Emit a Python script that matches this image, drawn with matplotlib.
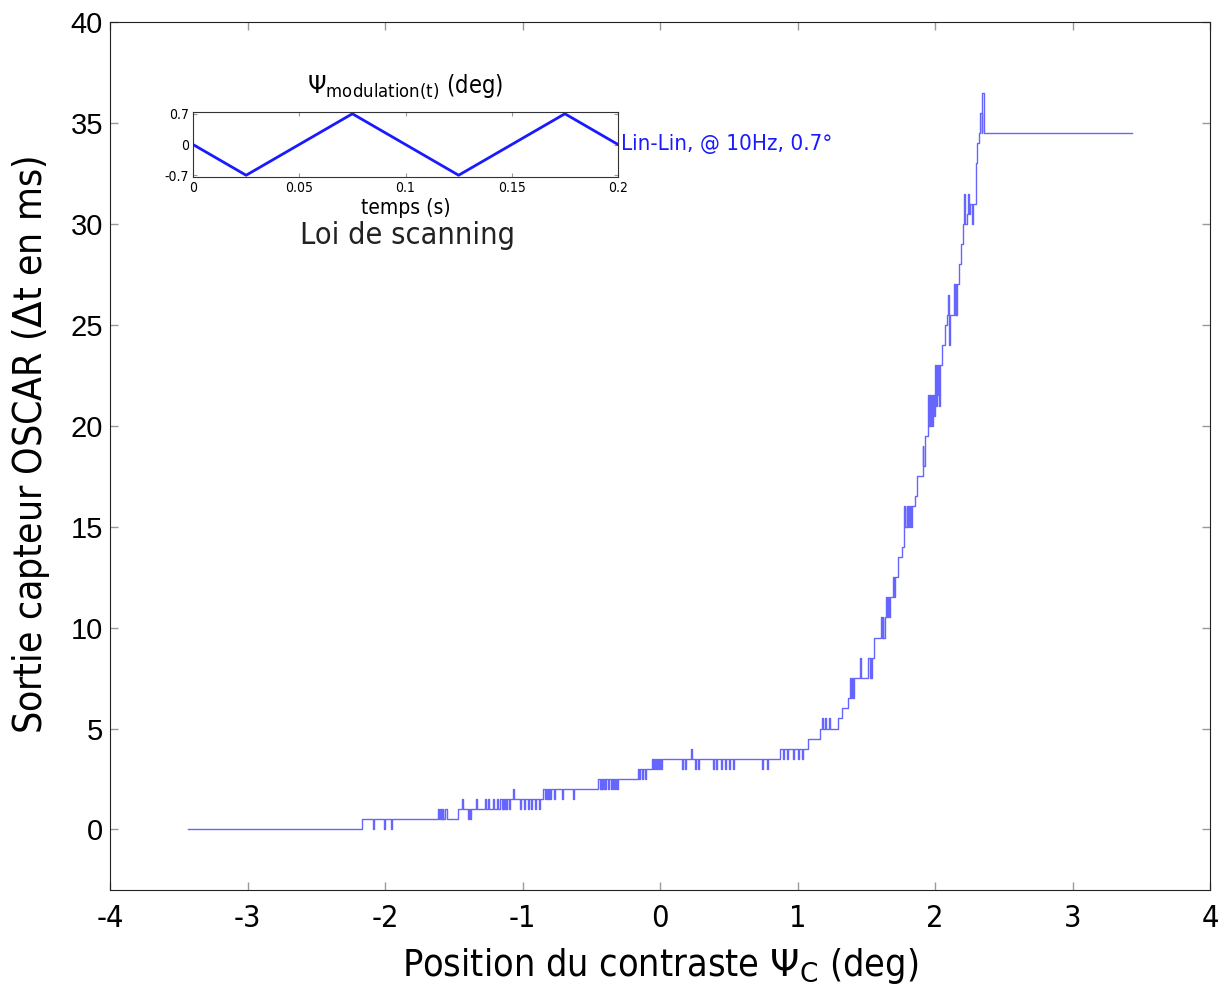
import numpy as np
import matplotlib
matplotlib.use("Agg")
import matplotlib.pyplot as plt
from matplotlib import font_manager

# main curve: staircase levels (deg -> ms)
step_x = [-3.43, -2.167, -1.615, -1.55, -1.47, -1.164, -0.85, -0.45, -0.16, -0.058,
          0.873, 1.076, 1.164, 1.295, 1.324, 1.367, 1.382, 1.513, 1.556, 1.607,
          1.644, 1.695, 1.731, 1.76, 1.775, 1.855, 1.869, 1.913, 1.927, 1.949,
          2.0, 2.051, 2.073, 2.087, 2.138, 2.175, 2.189, 2.204, 2.233, 2.255,
          2.298, 2.305, 2.32, 3.43]
step_y = [0, 0.5, 1.0, 0.5, 1.0, 1.5, 2.0, 2.5, 3.0, 3.5,
          4.0, 4.5, 5.0, 5.5, 6.0, 6.5, 7.5, 8.5, 9.5, 10.5,
          11.5, 12.5, 13.5, 14.0, 16.0, 16.5, 17.5, 19.0, 19.5, 21.5,
          23.0, 24.0, 25.0, 25.5, 27.0, 28.0, 29.0, 30.0, 30.5, 31.0,
          33.0, 34.0, 34.5, 34.5]

# short flicker pulses on top of the staircase
flick_x = [-2.09, -2.01, -1.96,
           -1.605, -1.595, -1.585, -1.575,
           -1.44, -1.34, -1.40, -1.385,
           -1.273, -1.251, -1.215, -1.185,
           -1.15, -1.14, -1.13, -1.12, -1.10, -1.07, -1.02, -0.99, -0.96, -0.94, -0.91, -0.88,
           -0.835, -0.825, -0.815, -0.80, -0.77, -0.71, -0.63,
           -0.44, -0.43, -0.42, -0.41, -0.40, -0.38, -0.36, -0.34, -0.33, -0.31,
           -0.15, -0.13, -0.11,
           -0.05, -0.035, -0.02, -0.005, 0.01, 0.16, 0.18, 0.225, 0.255, 0.276,
           0.385, 0.41, 0.44, 0.47, 0.50, 0.53, 0.742, 0.778,
           0.895, 0.92, 0.967, 1.0, 1.03,
           1.18, 1.20, 1.23,
           1.39, 1.40, 1.455,
           1.525, 1.535,
           1.615, 1.625, 1.65, 1.665, 1.70,
           1.785, 1.795, 1.81, 1.825,
           1.915, 1.92,
           1.955, 1.965, 1.975, 1.99,
           2.005, 2.015, 2.03,
           2.095, 2.10, 2.145, 2.155,
           2.21, 2.24, 2.27,
           2.325, 2.333, 2.343, 2.35]
flick_y = [0, 0, 0,
           0.5, 0.5, 0.5, 0.5,
           1.5, 1.5, 0.5, 0.5,
           1.5, 1.5, 1.5, 1.5,
           1.0, 1.0, 1.0, 1.0, 1.0, 2.0, 1.0, 1.0, 1.0, 1.0, 1.0, 1.0,
           1.5, 1.5, 1.5, 1.5, 1.5, 1.5, 1.5,
           2.0, 2.0, 2.0, 2.0, 2.0, 2.0, 2.0, 2.0, 2.0, 2.0,
           2.5, 2.5, 2.5,
           3.0, 3.0, 3.0, 3.0, 3.0, 3.0, 3.0, 4.0, 3.0, 3.0,
           3.0, 3.0, 3.0, 3.0, 3.0, 3.0, 3.0, 3.0,
           3.5, 3.5, 3.5, 3.5, 3.5,
           5.5, 5.5, 5.5,
           6.5, 6.5, 8.5,
           7.5, 7.5,
           9.5, 9.5, 10.5, 10.5, 11.5,
           15.0, 15.0, 15.0, 15.0,
           18.0, 18.0,
           20.0, 20.0, 20.0, 20.5,
           21.0, 21.5, 21.0,
           26.5, 24.0, 25.5, 25.5,
           31.5, 31.5, 30.0,
           35.5, 35.5, 36.5, 36.5]
flick_w = 0.008

# inset: scanning law
scan_t = [0, 0.025, 0.075, 0.125, 0.175, 0.2]
scan_psi = [0, -0.7, 0.7, -0.7, 0.7, 0]

# use a condensed face if one is installed, else Liberation Sans
cond = [f.name for f in font_manager.fontManager.ttflist
        if f.stretch in ('condensed', 'semi-condensed', 'extra-condensed', 500, 300, 400)
        and f.style == 'normal' and 'Mono' not in f.name]
nfam = cond[0] if cond else 'Liberation Sans'
narrow = dict(family=[nfam, 'DejaVu Sans'], stretch='condensed')
plt.rcParams['mathtext.fontset'] = 'custom'
plt.rcParams['mathtext.rm'] = nfam
plt.rcParams['axes.unicode_minus'] = False

fig = plt.figure(figsize=(12.32, 9.89), dpi=100)
ax = fig.add_axes([110/1232, 1 - 890/989, 1100/1232, 868/989])

sx = np.array(step_x)
fx = np.array(flick_x)
pts = np.unique(np.concatenate([sx, fx, fx + flick_w]))
vals = []
for x in pts:
    inside = np.where((fx <= x) & (x < fx + flick_w))[0]
    if len(inside):
        vals.append(flick_y[inside[0]])
    else:
        vals.append(step_y[np.searchsorted(sx, x, side='right') - 1])
ax.plot(pts, vals, drawstyle='steps-post', color='#0000ff', alpha=0.6, lw=1.0)

ax.set_xlim(-4, 4)
ax.set_ylim(-3, 40)
ax.set_xticks(range(-4, 5))
ax.set_yticks(range(0, 41, 5))
ax.tick_params(direction='in', length=6, color='#999999', top=True, right=True, width=1)
ax.tick_params(axis='x', pad=10)
ax.tick_params(axis='y', pad=5)
for lab in ax.get_xticklabels():
    lab.set_fontproperties(font_manager.FontProperties(size=22, **narrow))
for lab in ax.get_yticklabels():
    lab.set_fontfamily('Liberation Sans')
    lab.set_fontsize(21)
for sp in ax.spines.values():
    sp.set_color('#222222')

ax.set_xlabel(r'Position du contraste $\Psi_{\mathrm{C}}$ (deg)', fontsize=27, **narrow)
ax.xaxis.set_label_coords(0.5, -0.065)
ax.set_ylabel(r'Sortie capteur OSCAR ($\Delta$t en ms)', fontsize=28, **narrow)
ax.yaxis.set_label_coords(-0.053, 0.513)

# inset
ins = fig.add_axes([193/1232, 1 - 177/989, 425/1232, 65/989])
ins.plot(scan_t, scan_psi, color='#1a1aff', lw=2)
ins.set_xlim(0, 0.2)
ins.set_ylim(-0.74, 0.74)
ins.set_xticks([0, 0.05, 0.1, 0.15, 0.2])
ins.set_xticklabels(['0', '0.05', '0.1', '0.15', '0.2'])
ins.set_yticks([-0.7, 0, 0.7])
ins.set_yticklabels(['-0.7', '0', '0.7'])
ins.tick_params(direction='in', length=3, color='#999999', top=True, right=True, pad=3)
for lab in ins.get_xticklabels() + ins.get_yticklabels():
    lab.set_fontproperties(font_manager.FontProperties(size=10, **narrow))
for sp in ins.spines.values():
    sp.set_color('#333333')
ins.set_title(r'$\Psi_{\mathrm{modulation(t)}}$ (deg)', fontsize=17, pad=14, **narrow)
ins.set_xlabel('temps (s)', fontsize=15, labelpad=2, **narrow)
ins.text(1.008, 0.5, 'Lin-Lin, @ 10Hz, 0.7°', transform=ins.transAxes, color='#1a1aff',
         fontsize=16, va='center', ha='left', **narrow)
fig.text(407/1232, 1 - 236/989, 'Loi de scanning', fontsize=22, ha='center', va='center',
         color='#222222', **narrow)

fig.savefig('out.png', dpi=100)
